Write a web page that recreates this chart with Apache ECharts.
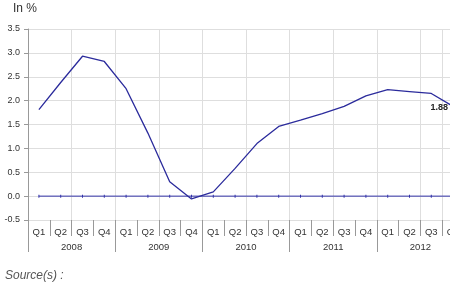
<!DOCTYPE html>
<html><head><meta charset="utf-8">
<script src="https://cdn.jsdelivr.net/npm/echarts@6/dist/echarts.min.js"></script>
<style>html,body{margin:0;padding:0;background:#fff;overflow:hidden}#c{width:470px;height:290px}</style>
</head><body><div id="c"></div>
<script>
var quarters = ['Q1','Q2','Q3','Q4','Q1','Q2','Q3','Q4','Q1','Q2','Q3','Q4','Q1','Q2','Q3','Q4','Q1','Q2','Q3','Q4'];
var years = ['2008','2009','2010','2011','2012'];
var values = [1.81,2.38,2.93,2.82,2.25,1.32,0.30,-0.06,0.09,0.58,1.10,1.46,1.59,1.73,1.88,2.10,2.23,2.19,2.15,1.88];
var zeros = [0,0,0,0,0,0,0,0,0,0,0,0,0,0,0,0,0,0,0,0];
var yTicks = {min:-0.5, max:3.5, interval:0.5};

var font = 'Liberation Sans, Arial, sans-serif';
var chart = echarts.init(document.getElementById('c'));
chart.setOption({
  animation:false,
  backgroundColor:'#fff',
  graphic:[
    {type:'text', left:13, top:3, style:{text:'In %', font:'12px '+font, fill:'#333'}},
    {type:'text', left:5, top:270, style:{text:'Source(s) :', font:'italic 12px '+font, fill:'#555'}}
  ],
  grid:{left:28, top:29, width:436, height:191},
  xAxis:[
    {type:'category', data:quarters, boundaryGap:true, position:'bottom',
     axisLine:{show:false, onZero:false},
     axisTick:{show:true, interval:0, length:16, lineStyle:{color:'#999'}},
     axisLabel:{interval:0, margin:7, fontSize:9.5, fontFamily:font, color:'#333'},
     splitLine:{show:true, interval:1, lineStyle:{color:'#dedede'}}},
    {type:'category', data:years, boundaryGap:true, position:'bottom',
     axisLine:{show:false, onZero:false},
     axisTick:{show:true, interval:0, length:32, lineStyle:{color:'#999'}},
     axisLabel:{interval:0, margin:22, fontSize:9.5, fontFamily:font, color:'#333'},
     splitLine:{show:false}}
  ],
  yAxis:{type:'value', min:yTicks.min, max:yTicks.max, interval:yTicks.interval,
     axisLine:{show:true, lineStyle:{color:'#999'}},
     axisTick:{show:true, length:4, lineStyle:{color:'#999'}},
     axisLabel:{fontSize:9, fontFamily:font, color:'#333', margin:8,
       formatter:function(v){return v.toFixed(1);}},
     splitLine:{show:true, lineStyle:{color:'#dedede'}}},
  series:[
    {type:'line', data:zeros, xAxisIndex:0, symbol:'rect', symbolSize:[1,3], showSymbol:true,
     itemStyle:{color:'#3333aa'}, lineStyle:{color:'#3333aa', width:1}, silent:true, z:2},
    {type:'line', data:values, xAxisIndex:0, symbol:'none', lineStyle:{color:'#2b2b9c', width:1.3}, z:3,
     markPoint:{symbol:'circle', symbolSize:0,
       data:[{coord:[19, values[19]], value:values[19]}],
       label:{show:true, position:'left', distance:5, formatter:function(p){return p.value.toFixed(2);},
         fontSize:9, fontWeight:'bold', fontFamily:font, color:'#222', offset:[0,1]}}}
  ]
});
</script></body></html>
